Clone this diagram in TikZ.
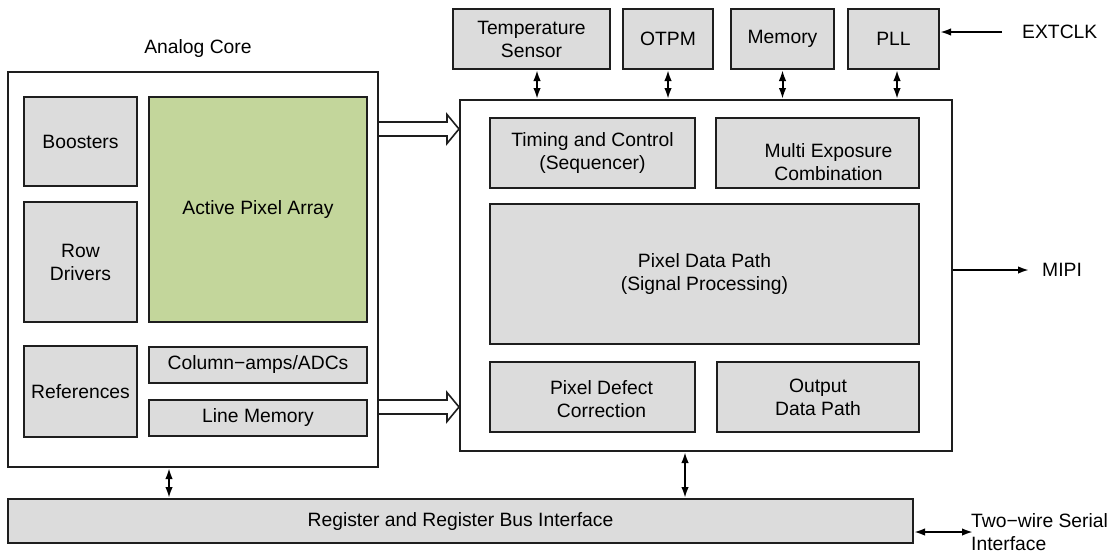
\documentclass[tikz,border=0pt]{standalone}
\usepackage{fontspec}
\setmainfont{Liberation Sans}
\usetikzlibrary{arrows.meta,calc}
\definecolor{boxgray}{RGB}{220,220,220}
\definecolor{pixgreen}{RGB}{195,214,155}
\definecolor{edge}{RGB}{30,30,30}
\begin{document}
\begin{tikzpicture}[x=1pt,y=-1pt,
  every node/.style={font=\fontsize{19.3}{23}\selectfont, align=center, inner sep=0pt},
  frame/.style={draw=edge, line width=2pt, fill=white, rectangle},
  blk/.style={draw=edge, line width=2pt, fill=boxgray, rectangle},
  pix/.style={draw=edge, line width=2pt, fill=pixgreen, rectangle},
  lbl/.style={},
  dbl/.style={line width=2pt, {Latex[length=11pt,width=7.5pt]}-{Latex[length=11pt,width=7.5pt]}},
  sgl/.style={line width=2pt, -{Latex[length=11pt,width=7.5pt]}},
  hollow/.style={draw=edge, line width=1.6pt, fill=white, line join=miter}
]
\useasboundingbox (0,0) rectangle (1115,557);
% Analog core
\node[frame, minimum width=370pt, minimum height=395pt] (analog) at (193,269.5) {};
\node[lbl] (analoglbl) at (198,49) {Analog Core};
\node[blk, minimum width=113pt, minimum height=89pt] (boost) at (80.5,141.5) {Boosters};
\node[blk, minimum width=113pt, minimum height=120pt] (rowdrv) at (80.5,262) {Row\\Drivers};
\node[pix, minimum width=218pt, minimum height=225pt] (apa) at (258,209.5) {Active Pixel Array};
\node[blk, minimum width=113pt, minimum height=91pt] (refs) at (80.5,391.5) {References};
\node[blk, minimum width=218pt, minimum height=36pt] (colamp) at (258,365) {Column−amps/ADCs};
\node[blk, minimum width=218pt, minimum height=36pt] (linemem) at (258,418) {Line Memory};
% Digital
\node[frame, minimum width=492pt, minimum height=351pt] (digital) at (706,275.5) {};
\node[blk, minimum width=157pt, minimum height=60pt] (temp) at (531.5,39) {Temperature\\Sensor};
\node[blk, minimum width=90pt, minimum height=60pt] (otpm) at (668,39) {OTPM};
\node[blk, minimum width=103pt, minimum height=60pt] (mem) at (782.5,39) {Memory};
\node[blk, minimum width=91pt, minimum height=60pt] (pll) at (893.5,39) {PLL};
\node[blk, minimum width=205pt, minimum height=70pt] (timing) at (592.5,153) {Timing and Control\\(Sequencer)};
\node[blk, minimum width=203pt, minimum height=70pt] (multi) at (817.5,153) {};
\node[lbl] (multilbl) at ($(multi.center)+(11,9)$) {Multi Exposure\\Combination};
\node[blk, minimum width=429pt, minimum height=140pt] (pdp) at (704.5,274) {Pixel Data Path\\(Signal Processing)};
\node[blk, minimum width=205pt, minimum height=70pt] (pdc) at (592.5,397) {};
\node[lbl] (pdclbl) at ($(pdc.center)+(9,2)$) {Pixel Defect\\Correction};
\node[blk, minimum width=202pt, minimum height=70pt] (odp) at (818,397) {Output\\Data Path};
% Register bus
\node[blk, minimum width=905pt, minimum height=44pt] (reg) at (460.5,521) {Register and Register Bus Interface};
% External labels
\node[anchor=west] (extclk) at (1022,32) {EXTCLK};
\node[anchor=west] (mipi) at (1042,270) {MIPI};
\node[anchor=west, align=left] (twowire) at (971,532) {Two−wire Serial\\Interface};
\coordinate (extend) at (1002,32);
\coordinate (mipiend) at (1029,270);
\coordinate (twend) at (973,532);
% vertical connectors
\draw[dbl] ([xshift=5.5pt]temp.south) -- ([xshift=5.5pt]temp.south |- digital.north);
\draw[dbl] (otpm.south) -- (otpm.south |- digital.north);
\draw[dbl] (mem.south) -- (mem.south |- digital.north);
\draw[dbl] ([xshift=3.5pt]pll.south) -- ([xshift=3.5pt]pll.south |- digital.north);
\coordinate (xa) at (169,0);
\coordinate (xd) at (685,0);
\draw[dbl] (analog.south -| xa) -- (reg.north -| xa);
\draw[dbl] (digital.south -| xd) -- (reg.north -| xd);
\draw[sgl] (extend) -- (pll.east |- extend);
\draw[sgl] (digital.east |- mipiend) -- (mipiend);
\draw[dbl] (reg.east |- twend) -- (twend);
% hollow arrows
\coordinate (ya) at (0,129);
\coordinate (yb) at (0,407);
\foreach \yy in {ya,yb}{
  \draw[hollow] ($(analog.east |- \yy)+(0,-7)$) -- ($(digital.west |- \yy)+(-12,-7)$) -- ($(digital.west |- \yy)+(-12,-14.5)$) -- (digital.west |- \yy) -- ($(digital.west |- \yy)+(-12,14.5)$) -- ($(digital.west |- \yy)+(-12,7)$) -- ($(analog.east |- \yy)+(0,7)$);
}
\end{tikzpicture}
\end{document}
